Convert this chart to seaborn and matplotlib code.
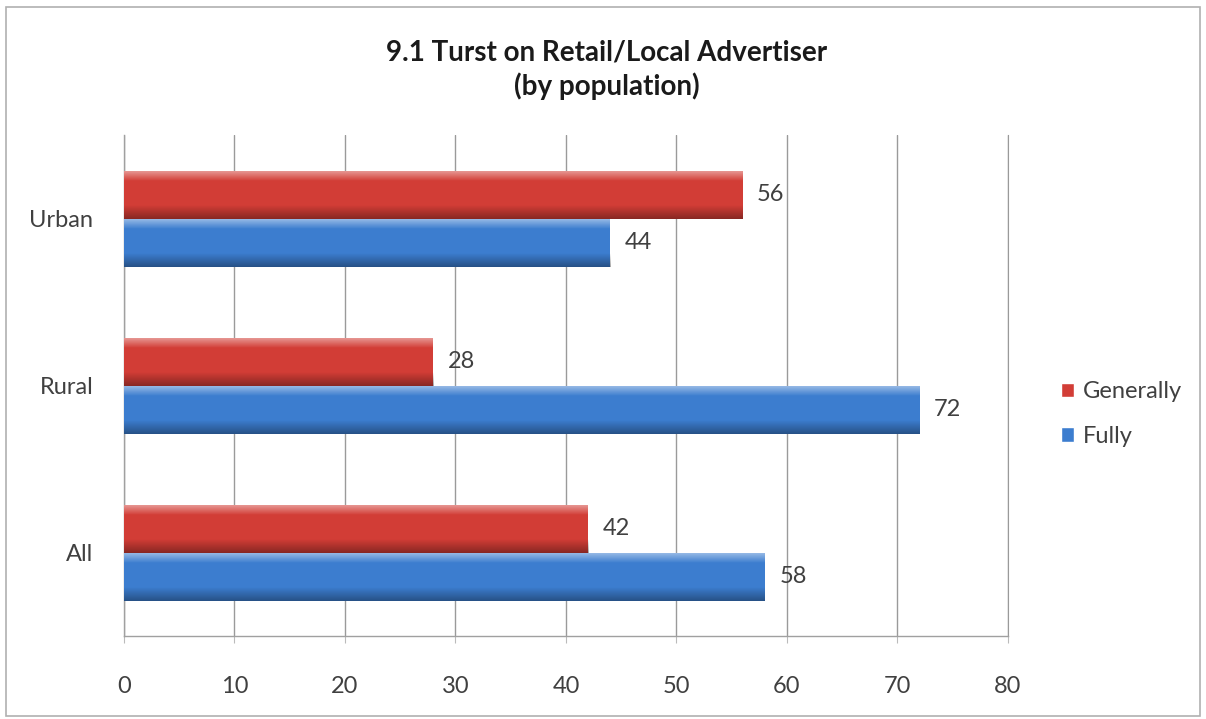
import numpy as np
import pandas as pd
import matplotlib
matplotlib.use("Agg")
import matplotlib.pyplot as plt
from matplotlib.patches import Rectangle
import seaborn as sns

groups = ["Urban", "Rural", "All"]
generally = [56, 28, 42]
fully = [44, 72, 58]
series_names = ["Generally", "Fully"]
x_ticks = [0, 10, 20, 30, 40, 50, 60, 70, 80]

df = pd.DataFrame({
    "group": groups * 2,
    "series": [series_names[0]] * 3 + [series_names[1]] * 3,
    "value": generally + fully,
})

sns.set_style("white")
plt.rcParams["font.family"] = ["Lato", "DejaVu Sans"]

red = "#d23d36"
blue = "#3c7dcf"
text_col = "#404040"

fig = plt.figure(figsize=(12.06, 7.19), dpi=100)
ax = fig.add_axes([0.1028, 0.1154, 0.733, 0.6968])

sns.barplot(data=df, x="value", y="group", hue="series", order=groups,
            hue_order=series_names, palette=[red, blue], orient="h",
            width=0.575, gap=0, saturation=1, ax=ax, legend=False,
            edgecolor="none", zorder=3)

# fake the glossy 3D look with a vertical gradient over each bar
shade = np.linspace(0, 1, 64).reshape(-1, 1)
for bar in ax.patches:
    x0, y0 = bar.get_x(), bar.get_y()
    w, h = bar.get_width(), bar.get_height()
    grad = np.zeros((64, 1, 4))
    light = np.where(shade < 0.22, (0.22 - shade) / 0.22 * 0.5, 0)
    dark = np.where(shade > 0.72, (shade - 0.72) / 0.28 * 0.35, 0)
    grad[..., :3] = np.where(shade[..., None] < 0.5, 1.0, 0.0)
    grad[..., 3] = light + dark
    im = ax.imshow(grad, extent=[x0, x0 + w, y0 + h, y0], aspect="auto",
                   origin="upper", zorder=4)
    im.set_clip_path(bar)
    ax.text(x0 + w + 1.3, y0 + h / 2, f"{w:.0f}", va="center", ha="left",
            fontsize=17, color=text_col, zorder=5)

ax.set_xlim(0, 80)
ax.set_ylim(2.5, -0.5)
ax.set_xticks(x_ticks)
ax.set_xticklabels([str(t) for t in x_ticks], fontsize=17, color=text_col)
ax.tick_params(axis="y", labelsize=17, labelcolor=text_col, length=0, pad=22)
ax.tick_params(axis="x", length=5, color="#bbbbbb", pad=24, bottom=True)
ax.set_xlabel("")
ax.set_ylabel("")
ax.grid(axis="x", color="#9a9a9a", linewidth=1, zorder=0)
ax.set_axisbelow(True)
ax.spines["top"].set_visible(False)
ax.spines["right"].set_color("#9a9a9a")
for side in ["left", "bottom"]:
    ax.spines[side].set_color("#a0a0a0")
    ax.spines[side].set_linewidth(1)

fig.text(0.503, 0.903, "9.1 Turst on Retail/Local Advertiser\n(by population)",
         ha="center", va="center", fontsize=20, fontweight="bold",
         color="#1a1a1a", linespacing=1.3)

handles = [Rectangle((0, 0), 1, 1, facecolor=red), Rectangle((0, 0), 1, 1, facecolor=blue)]
fig.legend(handles, series_names, loc="center left", bbox_to_anchor=(0.862, 0.424),
           frameon=False, fontsize=17, handlelength=0.55, handleheight=0.55,
           handletextpad=0.4, labelspacing=1.0, labelcolor=text_col)

fig.patches.append(Rectangle((0.005, 0.004), 0.99, 0.986, transform=fig.transFigure,
                             fill=False, edgecolor="#b0b0b0", linewidth=1.2))

fig.savefig("out.png", dpi=100, facecolor="white")
